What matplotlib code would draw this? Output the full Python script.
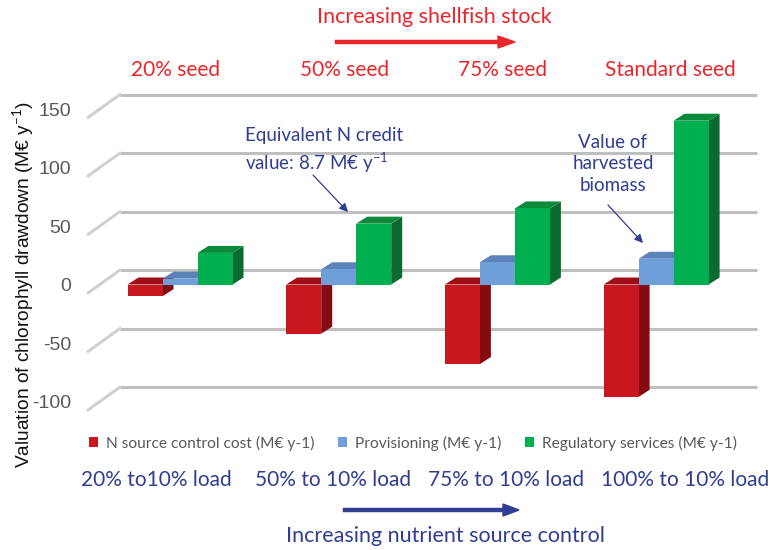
import matplotlib
matplotlib.use("Agg")
import matplotlib.pyplot as plt
from matplotlib.patches import Patch, Polygon, FancyArrowPatch
from matplotlib.transforms import offset_copy

plt.rcParams["font.family"] = ["Lato", "DejaVu Sans"]
plt.rcParams["mathtext.fontset"] = "custom"
plt.rcParams["mathtext.rm"] = "Lato"
plt.rcParams["mathtext.it"] = "Lato:italic"

# data
seed_labels = ["20% seed", "50% seed", "75% seed", "Standard seed"]
load_labels = ["20% to10% load", "50% to 10% load", "75% to 10% load", "100% to 10% load"]
series_names = ["N source control cost (M€ y-1)", "Provisioning (M€ y-1)",
                "Regulatory services (M€ y-1)"]
n_cost = [-10, -42, -68, -96]
provisioning = [5, 13, 19, 22]
regulatory = [27, 52, 65, 140]
yticks = [-100, -50, 0, 50, 100, 150]

# face colours: front, top, side
red = ("#c8171e", "#9e1015", "#860b10")
blue = ("#6f9fd8", "#5b83ba", "#4d70a2")
green = ("#00b050", "#0c8a3c", "#0a6a2f")
series = [(n_cost, red), (provisioning, blue), (regulatory, green)]

W, H = 773, 550
fig = plt.figure(figsize=(W / 100, H / 100), dpi=100)

# axes placed in pixel terms: x 88..760, y 85..420 (from top)
ax_l, ax_r, ax_t, ax_b = 88, 760, 85, 420
ax = fig.add_axes([ax_l / W, 1 - ax_b / H, (ax_r - ax_l) / W, (ax_b - ax_t) / H])
px_per_x = 158.7
px_per_y = 1.17
x0_px, y0_px = 180, 284.5
ax.set_xlim((ax_l - x0_px) / px_per_x, (ax_r - x0_px) / px_per_x)
ax.set_ylim((y0_px - ax_b) / px_per_y, (y0_px - ax_t) / px_per_y)
for s in ax.spines.values():
    s.set_visible(False)
ax.set_xticks([])
ax.patch.set_visible(False)

# back wall gridlines and side wall lines
back = offset_copy(ax.transData, fig=fig, x=20, y=14.5, units="dots")
front = offset_copy(ax.transData, fig=fig, x=-12, y=-8.5, units="dots")
wall_l, wall_r = -0.504, 3.51
for v in yticks:
    ax.plot([wall_l, wall_r], [v, v], color="#bfbfbf", lw=2.2, transform=back,
            zorder=0, solid_capstyle="butt")
    ax.annotate("", xy=(wall_l, v), xycoords=front, xytext=(wall_l, v),
                textcoords=back,
                arrowprops=dict(arrowstyle="-", color="#d0d0d0", lw=2.2,
                                shrinkA=0, shrinkB=0))

ax.set_yticks(yticks)
ax.set_yticklabels([str(v) for v in yticks], color="#595959", fontsize=14,
                   family="Liberation Sans")
ax.tick_params(axis="y", length=0, pad=12)
shift = offset_copy(ax.transAxes, fig=fig, x=0, y=-6, units="dots").get_affine() \
    - ax.transAxes.get_affine()
for lab in ax.get_yticklabels():
    lab.set_transform(lab.get_transform() + shift)

# pseudo-3D columns
bw = 35 / px_per_x
ddx = 11 / px_per_x
ddy = 7 / px_per_y
z = 2
for g in range(len(seed_labels)):
    for k, (vals, (cf, ct, cs)) in enumerate(series):
        v = vals[g]
        xl = g + (k - 1) * bw - bw / 2
        xr = xl + bw
        top = max(v, 0)
        bot = min(v, 0)
        ax.add_patch(Polygon([(xr, bot), (xr, top), (xr + ddx, top + ddy),
                              (xr + ddx, bot + ddy)], closed=True,
                             facecolor=cs, edgecolor="none", zorder=z))
        ax.add_patch(Polygon([(xl, top), (xr, top), (xr + ddx, top + ddy),
                              (xl + ddx, top + ddy)], closed=True,
                             facecolor=ct, edgecolor="none", zorder=z))
        ax.bar(xl, v, width=bw, align="edge", color=cf, zorder=z + 0.5)
        z += 1

# legend
handles = [Patch(facecolor=c[0]) for _, c in series]
fig.legend(handles, series_names, loc="center", bbox_to_anchor=(413 / W, 1 - 443 / H),
           ncol=3, frameon=False, fontsize=11.2, labelcolor="#595959",
           handlelength=0.6, handleheight=0.6, handletextpad=0.5, columnspacing=1.5)

red_txt = "#e8262b"
blue_txt = "#2f3e93"

fig.text(434 / W, 1 - 17 / H, "Increasing shellfish stock", color=red_txt,
         fontsize=15.5, ha="center", va="center")
fig.add_artist(plt.Line2D([337 / W, 500 / W], [1 - 42 / H] * 2, color=red_txt, lw=3.2))
fig.add_artist(Polygon([(498 / W, 1 - 36 / H), (515 / W, 1 - 42 / H), (498 / W, 1 - 48 / H)],
                       closed=True, transform=fig.transFigure, color=red_txt))

seed_x = [176, 345, 503, 670]
for x, lab in zip(seed_x, seed_labels):
    fig.text(x / W, 1 - 70 / H, lab, color=red_txt, fontsize=15, ha="center", va="center")

load_x = [156, 333, 506, 685]
for x, lab in zip(load_x, load_labels):
    fig.text(x / W, 1 - 480 / H, lab, color=blue_txt, fontsize=15, ha="center", va="center")

fig.add_artist(plt.Line2D([345 / W, 505 / W], [1 - 510 / H] * 2, color=blue_txt, lw=3.2))
fig.add_artist(Polygon([(503 / W, 1 - 504 / H), (519 / W, 1 - 510 / H), (503 / W, 1 - 516 / H)],
                       closed=True, transform=fig.transFigure, color=blue_txt))
fig.text(445 / W, 1 - 536 / H, "Increasing nutrient source control", color=blue_txt,
         fontsize=15.5, ha="center", va="center")

# annotations
fig.text(245 / W, 1 - 151 / H, "Equivalent N credit\nvalue: 8.7 M€ y$^{-1}$", color=blue_txt,
         fontsize=13.5, ha="left", va="center", linespacing=1.35)
fig.text(613 / W, 1 - 164 / H, "Value of\nharvested\nbiomass", color=blue_txt,
         fontsize=13.5, ha="center", va="center", linespacing=1.35)
for (xa, ya), (xb, yb) in [((313, 175), (348, 212)), ((608, 205), (643, 243))]:
    fig.add_artist(FancyArrowPatch(
        (xa / W, 1 - ya / H), (xb / W, 1 - yb / H), transform=fig.transFigure,
        arrowstyle="-|>,head_length=5,head_width=2.5", color=blue_txt, lw=0.9,
        shrinkA=0, shrinkB=0))

fig.text(23 / W, 1 - 285 / H, "Valuation of chlorophyll drawdown (M€ y$^{-1}$)",
         rotation=90, fontsize=13.8, ha="center", va="center", color="#111111",
         family="Liberation Sans")

fig.savefig("out.png", dpi=100)
